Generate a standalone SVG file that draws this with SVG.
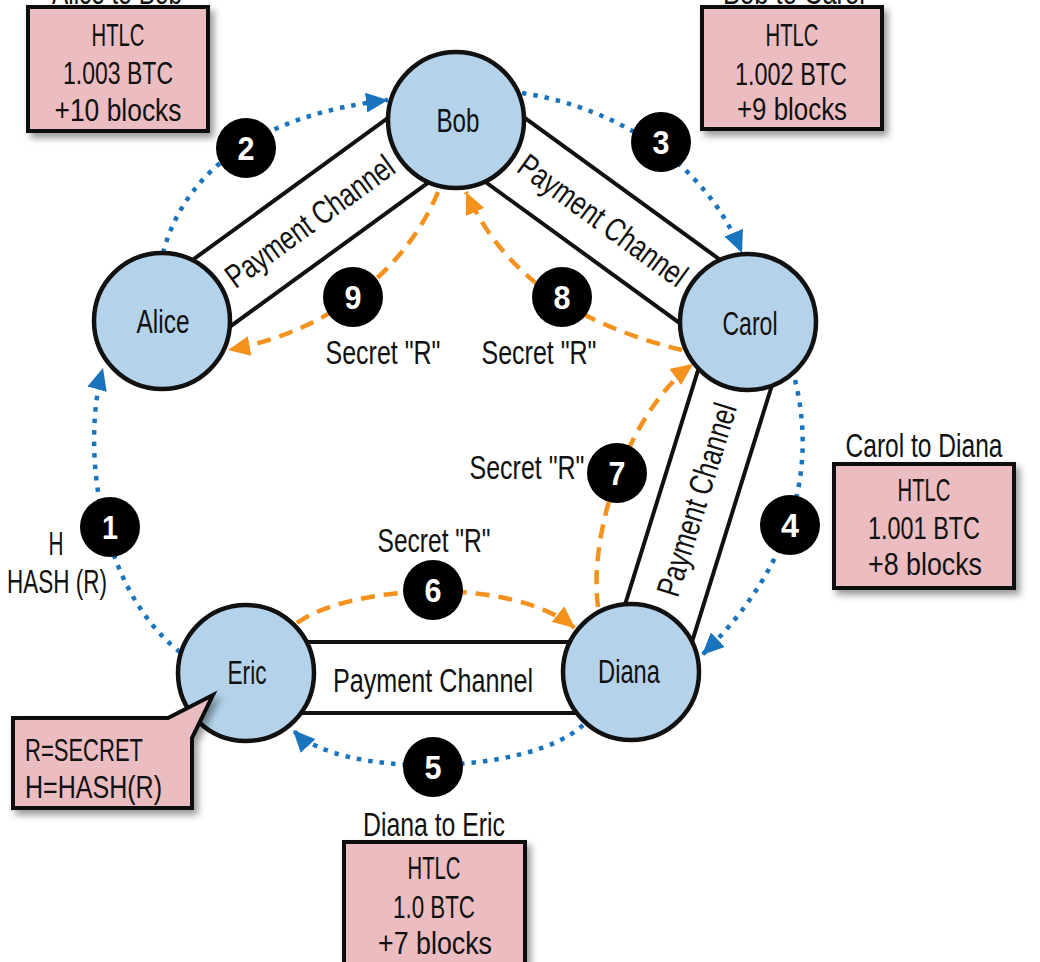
<svg xmlns="http://www.w3.org/2000/svg" width="1040" height="962" viewBox="0 0 1040 962">
<defs>
<filter id="sh" x="-20%" y="-20%" width="150%" height="150%"><feDropShadow dx="4" dy="5" stdDeviation="3.5" flood-color="#000" flood-opacity="0.4"/></filter>
<marker id="ab" markerUnits="userSpaceOnUse" markerWidth="24" markerHeight="20" refX="22" refY="10" orient="auto" viewBox="0 0 24 20"><path d="M0,0 L22,10 L0,20 Z" fill="#1a74bd"/></marker>
<marker id="ao" markerUnits="userSpaceOnUse" markerWidth="24" markerHeight="20" refX="22" refY="10" orient="auto" viewBox="0 0 24 20"><path d="M0,0 L22,10 L0,20 Z" fill="#f5921e"/></marker>
<style>
text{font-family:"Liberation Sans",Arial,sans-serif;fill:#111}
.lbl{font-size:33px;text-anchor:middle}
.bt{font-size:32px;text-anchor:middle}
.box{fill:#ebbcc0;stroke:#111;stroke-width:4;filter:url(#sh)}
.node{fill:#b4d3ea;stroke:#111;stroke-width:4.5}
.ch{fill:#fff;stroke:#111;stroke-width:4}
.dot{fill:none;stroke:#1a74bd;stroke-width:4.5;stroke-dasharray:4.5 7;marker-end:url(#ab)}
.dash{fill:none;stroke:#f5921e;stroke-width:4.5;stroke-dasharray:14 9;marker-end:url(#ao)}
.bd{fill:#000}
.num{font-size:34px;font-weight:bold;fill:#fff;text-anchor:middle}
</style>
</defs>
<rect width="1040" height="962" fill="#fff"/>

<g id="channels">
<g id="ch-alice-bob"><rect class="ch" x="-180" y="-38" width="360" height="76" transform="translate(310,221.6) rotate(-36)"/><text class="lbl" transform="translate(310,221.6) rotate(-36)" y="11" textLength="200" lengthAdjust="spacingAndGlyphs">Payment Channel</text></g>
<g id="ch-bob-carol"><rect class="ch" x="-178" y="-37.5" width="356" height="75" transform="translate(602.5,220.7) rotate(36)"/><text class="lbl" transform="translate(602.5,220.7) rotate(36)" y="11" textLength="200" lengthAdjust="spacingAndGlyphs">Payment Channel</text></g>
<g id="ch-carol-diana"><rect class="ch" x="-186" y="-37.5" width="372" height="75" transform="translate(697,499.7) rotate(107.3)"/><text class="lbl" transform="translate(697,499.7) rotate(-72.7)" y="11" textLength="200" lengthAdjust="spacingAndGlyphs">Payment Channel</text></g>
<g id="ch-eric-diana"><rect class="ch" x="246" y="642" width="385" height="71"/><text class="lbl" x="433" y="692" textLength="200" lengthAdjust="spacingAndGlyphs">Payment Channel</text></g>
</g>

<g id="connectors">
<path class="dot" d="M180,652 C100,590 80,450 103,368"/>
<path class="dot" d="M163,253 C185,170 260,115 388,100"/>
<path class="dot" d="M522,93 C600,105 700,150 742,253"/>
<path class="dot" d="M795,380 C815,460 800,560 702,655"/>
<path class="dot" d="M583,725 C530,775 340,780 293,730"/>
<path class="dash" d="M297,623 C350,585 510,575 575,628"/>
<path class="dash" d="M598,607 C588,530 630,410 693,364"/>
<path class="dash" d="M682,350 C600,330 510,290 466,192"/>
<path class="dash" d="M438,192 C410,260 340,330 228,350"/>
</g>

<g id="alice"><circle class="node" cx="162" cy="321" r="68"/><text class="lbl" x="163" y="333" textLength="53" lengthAdjust="spacingAndGlyphs">Alice</text></g>
<g id="bob"><circle class="node" cx="456" cy="120" r="68"/><text class="lbl" x="458" y="132" textLength="43" lengthAdjust="spacingAndGlyphs">Bob</text></g>
<g id="carol"><circle class="node" cx="748" cy="322" r="68"/><text class="lbl" x="750" y="335" textLength="55" lengthAdjust="spacingAndGlyphs">Carol</text></g>
<g id="diana"><circle class="node" cx="631" cy="672" r="68"/><text class="lbl" x="629" y="683" textLength="62" lengthAdjust="spacingAndGlyphs">Diana</text></g>
<g id="eric"><circle class="node" cx="246" cy="673" r="68"/><text class="lbl" x="247" y="684" textLength="39" lengthAdjust="spacingAndGlyphs">Eric</text></g>

<g id="badges">
<g id="b1"><circle class="bd" cx="110" cy="527" r="30"/><text class="num" x="110" y="539" textLength="16" lengthAdjust="spacingAndGlyphs">1</text></g>
<g id="b2"><circle class="bd" cx="246" cy="148" r="30"/><text class="num" x="246" y="160" textLength="17" lengthAdjust="spacingAndGlyphs">2</text></g>
<g id="b3"><circle class="bd" cx="661" cy="142" r="30"/><text class="num" x="661" y="154" textLength="17" lengthAdjust="spacingAndGlyphs">3</text></g>
<g id="b4"><circle class="bd" cx="790" cy="525" r="30"/><text class="num" x="790" y="537" textLength="18" lengthAdjust="spacingAndGlyphs">4</text></g>
<g id="b5"><circle class="bd" cx="433" cy="767" r="30"/><text class="num" x="433" y="779" textLength="17" lengthAdjust="spacingAndGlyphs">5</text></g>
<g id="b6"><circle class="bd" cx="433" cy="590" r="30"/><text class="num" x="433" y="602" textLength="17" lengthAdjust="spacingAndGlyphs">6</text></g>
<g id="b7"><circle class="bd" cx="617" cy="473" r="30"/><text class="num" x="617" y="485" textLength="17" lengthAdjust="spacingAndGlyphs">7</text></g>
<g id="b8"><circle class="bd" cx="562" cy="297" r="30"/><text class="num" x="562" y="309" textLength="17" lengthAdjust="spacingAndGlyphs">8</text></g>
<g id="b9"><circle class="bd" cx="353" cy="297" r="30"/><text class="num" x="353" y="309" textLength="17" lengthAdjust="spacingAndGlyphs">9</text></g>
</g>

<g id="labels">
<text class="lbl" x="56" y="555" textLength="15" lengthAdjust="spacingAndGlyphs">H</text>
<text class="lbl" x="57" y="593" textLength="100" lengthAdjust="spacingAndGlyphs">HASH (R)</text>
<text class="lbl" x="383" y="364" textLength="115" lengthAdjust="spacingAndGlyphs">Secret "R"</text>
<text class="lbl" x="539" y="364" textLength="115" lengthAdjust="spacingAndGlyphs">Secret "R"</text>
<text class="lbl" x="527" y="479" textLength="115" lengthAdjust="spacingAndGlyphs">Secret "R"</text>
<text class="lbl" x="434" y="552" textLength="113" lengthAdjust="spacingAndGlyphs">Secret "R"</text>
</g>

<g id="htlc-alice-bob">
<text class="lbl" x="117" y="4" textLength="130" lengthAdjust="spacingAndGlyphs">Alice to Bob</text>
<rect class="box" x="28" y="7" width="180" height="124"/>
<text class="bt" x="118" y="46" textLength="53" lengthAdjust="spacingAndGlyphs">HTLC</text><text class="bt" x="118" y="84" textLength="110" lengthAdjust="spacingAndGlyphs">1.003 BTC</text><text class="bt" x="118" y="121" textLength="127" lengthAdjust="spacingAndGlyphs">+10 blocks</text>
</g>
<g id="htlc-bob-carol">
<text class="lbl" x="794" y="4" textLength="142" lengthAdjust="spacingAndGlyphs">Bob to Carol</text>
<rect class="box" x="702" y="7" width="180" height="122"/>
<text class="bt" x="792" y="46" textLength="53" lengthAdjust="spacingAndGlyphs">HTLC</text><text class="bt" x="791" y="85" textLength="112" lengthAdjust="spacingAndGlyphs">1.002 BTC</text><text class="bt" x="792" y="120" textLength="110" lengthAdjust="spacingAndGlyphs">+9 blocks</text>
</g>
<g id="htlc-carol-diana">
<text class="lbl" x="924" y="457" textLength="157" lengthAdjust="spacingAndGlyphs">Carol to Diana</text>
<rect class="box" x="834" y="464" width="180" height="124"/>
<text class="bt" x="924" y="501" textLength="53" lengthAdjust="spacingAndGlyphs">HTLC</text><text class="bt" x="924" y="539" textLength="112" lengthAdjust="spacingAndGlyphs">1.001 BTC</text><text class="bt" x="925" y="575" textLength="114" lengthAdjust="spacingAndGlyphs">+8 blocks</text>
</g>
<g id="htlc-diana-eric">
<text class="lbl" x="434" y="836" textLength="142" lengthAdjust="spacingAndGlyphs">Diana to Eric</text>
<rect class="box" x="344" y="842" width="181" height="140"/>
<text class="bt" x="434" y="879" textLength="53" lengthAdjust="spacingAndGlyphs">HTLC</text><text class="bt" x="434" y="918" textLength="82" lengthAdjust="spacingAndGlyphs">1.0 BTC</text><text class="bt" x="435" y="954" textLength="114" lengthAdjust="spacingAndGlyphs">+7 blocks</text>
</g>
<g id="eric-callout">
<path class="box" d="M13,718 L168,718 L213,695 L192,738 L192,808 L13,808 Z"/>
<text class="bt" x="25" y="761" style="text-anchor:start" textLength="118" lengthAdjust="spacingAndGlyphs">R=SECRET</text>
<text class="bt" x="25" y="798" style="text-anchor:start" textLength="137" lengthAdjust="spacingAndGlyphs">H=HASH(R)</text>
</g>
</svg>
